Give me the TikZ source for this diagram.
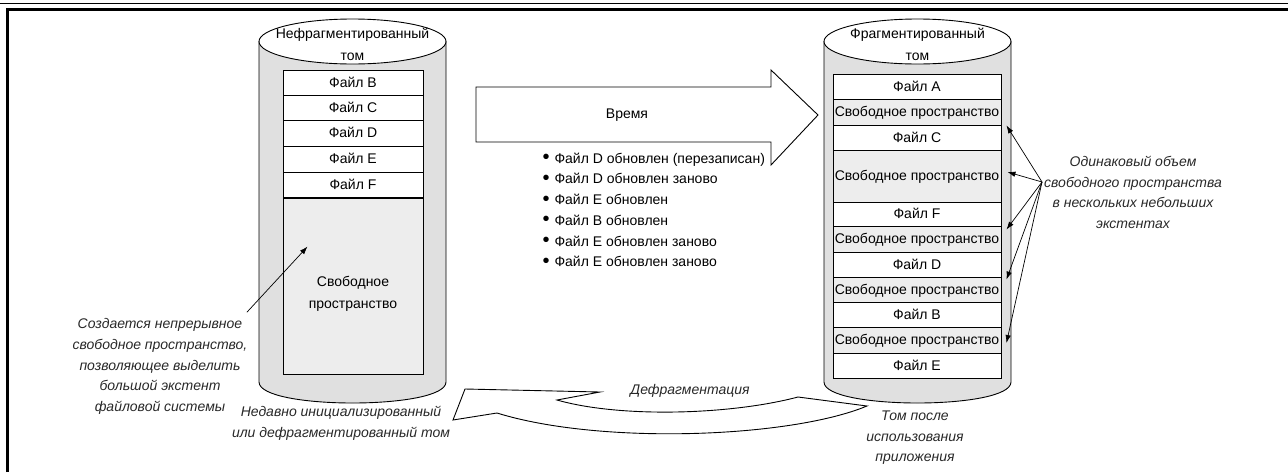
\documentclass[tikz,border=0pt]{standalone}
\usepackage{fontspec}
\setmainfont{Liberation Sans}
\usetikzlibrary{calc,arrows.meta}

\definecolor{cylgray}{RGB}{224,224,224}
\definecolor{freegray}{RGB}{237,237,237}
\definecolor{inkgray}{RGB}{40,40,40}

\tikzset{
  outline/.style={draw=black, line width=0.9pt},
  cylbody/.style={outline, fill=cylgray},
  cyltop/.style={outline, fill=white},
  filebox/.style={outline, fill=white, inner sep=0pt, text height=11pt, text depth=2pt},
  freebox/.style={filebox, fill=freegray},
  title/.style={align=center, font=\fontsize{14}{22}\selectfont},
  note/.style={align=center, text=inkgray, font=\fontsize{14}{20.6}\selectfont\itshape},
  pointer/.style={line width=0.7pt, -{Latex[length=8pt,width=5.5pt]}},
  bigarrow/.style={draw=black, line width=0.9pt, fill=white}
}
\newcommand{\evbullet}{\makebox[12pt][l]{\raisebox{-0.4pt}{\fontsize{20}{20}\selectfont•}}}

\begin{document}
\begin{tikzpicture}[x=1pt, y=-1pt, font=\fontsize{14}{20.7}\selectfont]
\useasboundingbox (0,0) rectangle (1288,472);

% page frame
\draw[line width=1pt] (0,3.3) -- (1288,3.3);
\draw[line width=2.4pt] (7.3,472) -- (7.3,9.3) -- (1288,9.3);

% ---------- left volume ----------
\path[cylbody] (259,41.5) -- (259,382) .. controls (259,410) and (446,410) .. (446,382) -- (446,41.5) -- cycle;
\draw[cyltop] (352.5,41.5) ellipse [x radius=93.5, y radius=22.5];
\node[title] (ltitle) at (352.5,44.5) {Нефрагментированный\\том};

\node[filebox, minimum width=140, minimum height=25] (lB) at (353,82.5) {Файл B};
\node[filebox, minimum width=140, minimum height=25] (lC) at (353,107.5) {Файл C};
\node[filebox, minimum width=140, minimum height=26] (lD) at (353,133) {Файл D};
\node[filebox, minimum width=140, minimum height=26] (lE) at (353,159) {Файл E};
\node[filebox, minimum width=140, minimum height=25] (lF) at (353,184.5) {Файл F};
\node[freebox, minimum width=140, minimum height=176] (lfree) at (353,286) {};
\node[align=center, font=\fontsize{14}{22}\selectfont] (lfreetext) at ($(lfree.center)+(0,8)$) {Свободное\\пространство};

% ---------- right volume ----------
\path[cylbody] (824,41.5) -- (824,382) .. controls (824,410) and (1011,410) .. (1011,382) -- (1011,41.5) -- cycle;
\draw[cyltop] (917.5,41.5) ellipse [x radius=93.5, y radius=22.5];
\node[title] (rtitle) at (917.5,44.5) {Фрагментированный\\том};

\node[filebox, minimum width=168, minimum height=25] (rA) at (917,86.5) {Файл A};
\node[freebox, minimum width=168, minimum height=26] (fr1) at (917,112) {Свободное пространство};
\node[filebox, minimum width=168, minimum height=25] (rC) at (917,137.5) {Файл C};
\node[freebox, minimum width=168, minimum height=52] (fr2) at (917,176) {Свободное пространство};
\node[filebox, minimum width=168, minimum height=24] (rF) at (917,214) {Файл F};
\node[freebox, minimum width=168, minimum height=26] (fr3) at (917,239) {Свободное пространство};
\node[filebox, minimum width=168, minimum height=25] (rD) at (917,264.5) {Файл D};
\node[freebox, minimum width=168, minimum height=25] (fr4) at (917,289.5) {Свободное пространство};
\node[filebox, minimum width=168, minimum height=25] (rB) at (917,314.5) {Файл B};
\node[freebox, minimum width=168, minimum height=26] (fr5) at (917,340) {Свободное пространство};
\node[filebox, minimum width=168, minimum height=25] (rE) at (917,365.5) {Файл E};

% ---------- time arrow ----------
\path[bigarrow] (476,87) -- (771,87) -- (771,70) -- (818,115) -- (771,165) -- (771,142) -- (476,142) -- cycle;
\node (time) at (627,115) {Время};

\node[align=left, anchor=west] (events) at (539,210) {%
\evbullet Файл D обновлен (перезаписан)\\
\evbullet Файл D обновлен заново\\
\evbullet Файл E обновлен\\
\evbullet Файл B обновлен\\
\evbullet Файл E обновлен заново\\
\evbullet Файл E обновлен заново};

% ---------- defragmentation arrow ----------
\path[bigarrow] (453,420) -- (465,389) -- (600,392) -- (557,400)
  .. controls (620,418) and (730,415) .. (798,397) -- (867,406)
  .. controls (790,438) and (600,445) .. (497,413) -- cycle;
\node[note] (defrag) at (690,391) {Дефрагментация};

% ---------- notes ----------
\node[note] (lnote) at (160,366.5) {Создается непрерывное\\свободное пространство,\\позволяющее выделить\\большой экстент\\файловой системы};
\draw[pointer] ($(lnote.north east)+(-4,-3)$) -- ($(lfree.north west)+(25,49)$);

\node[note] (lcap) at (341,423.5) {Недавно инициализированный\\или дефрагментированный том};
\node[note] (rcap) at (915,438) {Том после\\использования\\приложения};

\node[note] (rnote) at (1133,192.5) {Одинаковый объем\\свободного пространства\\в нескольких небольших\\экстентах};
\coordinate (conv) at (1042,182);
\draw[pointer] (conv) -- ($(fr1.south east)+(5,0)$);
\draw[pointer] (conv) -- ($(fr2.east)+(6,-4)$);
\draw[pointer] (conv) -- ($(fr3.north east)+(5,4)$);
\draw[pointer] (conv) -- ($(fr4.north east)+(5,3)$);
\draw[pointer] (conv) -- ($(fr5.east)+(5,3)$);
\end{tikzpicture}
\end{document}
